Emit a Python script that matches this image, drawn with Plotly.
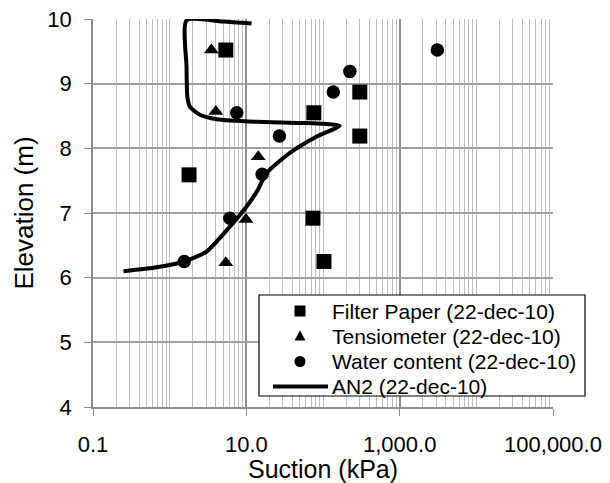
import plotly.graph_objects as go

# ---- data ----
fp_suction = [5.4, 302, 76, 302, 1.79, 74, 103]
fp_elev = [9.52, 8.87, 8.55, 8.19, 7.59, 6.92, 6.25]

ts_suction = [3.5, 4.0, 14.3, 9.9, 5.4]
ts_elev = [9.52, 8.57, 7.87, 6.90, 6.23]

wc_suction = [3100, 224, 136, 7.5, 27, 16.1, 6.1, 1.55]
wc_elev = [9.52, 9.19, 8.87, 8.55, 8.19, 7.60, 6.92, 6.25]

an2_suction = [0.25, 0.68, 1.55, 3.0, 6.1, 10.1, 14.0, 18.4, 37, 82, 165,
               60, 13.6, 4.1, 2.48, 1.84, 1.70, 1.66, 1.66, 5.0, 11.7]
an2_elev = [6.10, 6.16, 6.25, 6.40, 6.79, 7.10, 7.35, 7.62, 7.93, 8.18, 8.35,
            8.39, 8.41, 8.45, 8.52, 8.64, 8.80, 9.26, 9.98, 9.96, 9.93]

x_tickvals = [0.1, 10, 1000, 100000]
x_ticktext = ["0.1", "10.0", "1,000.0", "100,000.0"]
y_tickvals = [4, 5, 6, 7, 8, 9, 10]

names = ["Filter Paper (22-dec-10)", "Tensiometer (22-dec-10)",
         "Water content (22-dec-10)", "AN2 (22-dec-10)"]

# minor gridline positions (1..9 x each decade)
minor_vals = []
for e in range(-1, 5):
    for d in range(1, 10):
        v = d * 10 ** e
        if v not in x_tickvals:
            minor_vals.append(v)

fig = go.Figure()
fig.add_trace(go.Scatter(x=fp_suction, y=fp_elev, mode="markers", name=names[0],
                         marker=dict(symbol="square", size=15, color="black")))
fig.add_trace(go.Scatter(x=ts_suction, y=ts_elev, mode="markers", name=names[1],
                         marker=dict(symbol="triangle-up", size=13, color="black")))
fig.add_trace(go.Scatter(x=wc_suction, y=wc_elev, mode="markers", name=names[2],
                         marker=dict(symbol="circle", size=13.5, color="black")))
fig.add_trace(go.Scatter(x=an2_suction, y=an2_elev, mode="lines", name=names[3],
                         line=dict(color="black", width=4, shape="spline", smoothing=0.6)))

font_family = "Liberation Sans, Arial, sans-serif"

# ---- legend drawn as a boxed key (paper coordinates) ----
L, R, T, B = 93, 553, 19, 407          # plot area in pixels
def px(x):
    return (x - L) / (R - L)
def py(y):
    return (B - y) / (B - T)

row_y = [311, 336, 361.5, 386.5]
shapes = [
    dict(type="rect", xref="paper", yref="paper", layer="above",
         x0=px(259), x1=px(585), y0=py(396), y1=py(295),
         fillcolor="white", line=dict(color="black", width=1.2)),
    dict(type="rect", xref="paper", yref="paper", layer="above",
         xsizemode="pixel", ysizemode="pixel", xanchor=px(300), yanchor=py(row_y[0]),
         x0=-5.5, x1=5.5, y0=-5.5, y1=5.5, fillcolor="black", line=dict(width=0)),
    dict(type="path", xref="paper", yref="paper", layer="above",
         xsizemode="pixel", ysizemode="pixel", xanchor=px(300), yanchor=py(row_y[1]),
         path="M-5.5,-4.5 L5.5,-4.5 L0,5.5 Z", fillcolor="black", line=dict(width=0)),
    dict(type="circle", xref="paper", yref="paper", layer="above",
         xsizemode="pixel", ysizemode="pixel", xanchor=px(300), yanchor=py(row_y[2]),
         x0=-5.5, x1=5.5, y0=-5.5, y1=5.5, fillcolor="black", line=dict(width=0)),
    dict(type="line", xref="paper", yref="paper", layer="above",
         x0=px(273), x1=px(328), y0=py(row_y[3]), y1=py(row_y[3]),
         line=dict(color="black", width=4)),
]
annotations = [
    dict(text=n, xref="paper", yref="paper", x=px(330), y=py(yy),
         xanchor="left", yanchor="middle", showarrow=False,
         font=dict(size=21, color="black", family=font_family))
    for n, yy in zip(names, row_y)
]

fig.update_layout(
    width=610, height=483,
    margin=dict(l=L, r=610 - R, t=T, b=483 - B),
    paper_bgcolor="white", plot_bgcolor="white",
    font=dict(family=font_family, size=22, color="black"),
    showlegend=False,
    shapes=shapes, annotations=annotations,
    xaxis=dict(type="log", range=[-1, 5], automargin=False,
               tickmode="array", tickvals=x_tickvals, ticktext=x_ticktext,
               showgrid=True, gridcolor="#8c8c8c", gridwidth=1.5,
               showline=True, linecolor="#8c8c8c", linewidth=1.5,
               ticks="outside", ticklen=7, tickcolor="#8c8c8c",
               ticklabelstandoff=10,
               minor=dict(tickmode="array", tickvals=minor_vals, showgrid=True,
                          gridcolor="#bdbdbd", gridwidth=1.2, ticks=""),
               title=dict(text="Suction (kPa)", font=dict(size=25), standoff=4),
               tickfont=dict(size=22), zeroline=False),
    yaxis=dict(range=[4, 10], tickmode="array", tickvals=y_tickvals, automargin=False,
               showgrid=True, gridcolor="#a0a0a0", gridwidth=1.5,
               showline=True, linecolor="#8c8c8c", linewidth=1.5,
               ticks="outside", ticklen=7, tickcolor="#8c8c8c",
               ticklabelstandoff=8,
               title=dict(text="Elevation (m)", font=dict(size=26), standoff=6),
               tickfont=dict(size=22), zeroline=False),
)

fig.write_html("out.html")
